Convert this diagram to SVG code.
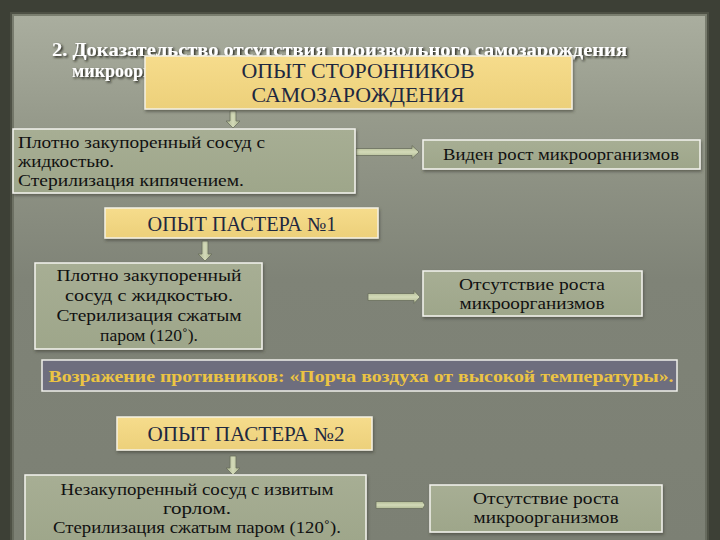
<svg xmlns="http://www.w3.org/2000/svg" width="720" height="540" viewBox="0 0 720 540">
<defs>
<linearGradient id="paper" x1="0" y1="0" x2="0" y2="1">
<stop offset="0" stop-color="#aaae9f"/>
<stop offset="0.2" stop-color="#969a8b"/>
<stop offset="0.5" stop-color="#7f8377"/>
<stop offset="1" stop-color="#7c8074"/>
</linearGradient>
<linearGradient id="yel" x1="0" y1="0" x2="0" y2="1">
<stop offset="0" stop-color="#f6dc8c"/>
<stop offset="1" stop-color="#ecd07a"/>
</linearGradient>
<linearGradient id="grn" x1="0" y1="0" x2="0" y2="1">
<stop offset="0" stop-color="#a7ae94"/>
<stop offset="1" stop-color="#9ea68a"/>
</linearGradient>
<linearGradient id="arr" x1="0" y1="0" x2="0" y2="1">
<stop offset="0" stop-color="#a9b28c"/>
<stop offset="0.5" stop-color="#d3dab8"/>
<stop offset="1" stop-color="#a9b28c"/>
</linearGradient>
<linearGradient id="arrv" x1="0" y1="0" x2="1" y2="0">
<stop offset="0" stop-color="#a9b28c"/>
<stop offset="0.5" stop-color="#d3dab8"/>
<stop offset="1" stop-color="#a9b28c"/>
</linearGradient>
<filter id="sh" x="-5%" y="-30%" width="110%" height="160%">
<feDropShadow dx="1.5" dy="1.5" stdDeviation="0.8" flood-color="#1a1a14" flood-opacity="0.95"/>
</filter>
<filter id="bs" x="-5%" y="-10%" width="110%" height="130%">
<feDropShadow dx="1" dy="2" stdDeviation="1.5" flood-color="#3a3c32" flood-opacity="0.6"/>
</filter>
</defs>
<style>
.yb{fill:url(#yel);stroke:#f4f1e4;stroke-width:1.5;filter:url(#bs)}
.gb{fill:url(#grn);stroke:#f4f4ee;stroke-width:1.5;filter:url(#bs)}
.yt{font-family:"Liberation Serif","DejaVu Serif",serif;font-size:20px;fill:#1e2840;text-anchor:middle}
.gt{font-family:"Liberation Serif","DejaVu Serif",serif;font-size:16.5px;fill:#111}
.c{text-anchor:middle}
.ah{fill:url(#arr);stroke:#6a6e5e;stroke-width:0.8}
.av{fill:url(#arrv);stroke:#6a6e5e;stroke-width:0.8}
</style>
<rect x="0" y="0" width="720" height="540" fill="#3d4036"/>
<rect x="12" y="14" width="695" height="530" fill="url(#paper)"/>
<rect x="12" y="14" width="695" height="530" fill="none" stroke="#5a5d50" stroke-width="4" opacity="0.6"/>
<g id="title" filter="url(#sh)" font-family="Liberation Serif,DejaVu Serif,serif" font-weight="bold" font-size="18" fill="#ffffff">
<text x="52" y="56" textLength="575" lengthAdjust="spacingAndGlyphs">2.  Доказательство  отсутствия  произвольного  самозарождения</text>
<text x="72" y="77">микроорганизмов</text>
</g>
<g id="connectors">
<path class="av" d="M230,111 h6 v10 h4 l-7,7 l-7,-7 h4 z"/>
<path class="ah" d="M356,148.5 h56 v-3 l7,6.5 l-7,6.5 v-3 h-56 z"/>
<path class="av" d="M202,241 h6 v13 h4 l-7,7 l-7,-7 h4 z"/>
<path class="ah" d="M368,293.5 h46 v-3 l6,6.5 l-6,6.5 v-3 h-46 z"/>
<path class="av" d="M230,456 h6 v12 h4 l-7,7 l-7,-7 h4 z"/>
<path class="ah" d="M376,501.5 h46 v-1 l3,4.5 l-3,4.5 v-1 h-46 z"/>
</g>
<g id="n1">
<rect class="yb" x="145" y="56" width="427" height="53"/>
<text class="yt" x="358" y="78" textLength="233" lengthAdjust="spacingAndGlyphs">ОПЫТ СТОРОННИКОВ</text>
<text class="yt" x="358" y="102" textLength="213" lengthAdjust="spacingAndGlyphs">САМОЗАРОЖДЕНИЯ</text>
</g>
<g id="n2">
<rect class="gb" x="13" y="129" width="342" height="64"/>
<text class="gt" x="18" y="148" textLength="247" lengthAdjust="spacingAndGlyphs">Плотно закупоренный сосуд с</text>
<text class="gt" x="18" y="167" textLength="96" lengthAdjust="spacingAndGlyphs">жидкостью.</text>
<text class="gt" x="18" y="186" textLength="226" lengthAdjust="spacingAndGlyphs">Стерилизация кипячением.</text>
</g>
<g id="n3">
<rect class="gb" x="423" y="140" width="277" height="29"/>
<text class="gt c" x="561" y="160" textLength="236" lengthAdjust="spacingAndGlyphs">Виден рост микроорганизмов</text>
</g>
<g id="n4">
<rect class="yb" x="105" y="208" width="273" height="30"/>
<text class="yt" x="242" y="231" textLength="189" lengthAdjust="spacingAndGlyphs">ОПЫТ ПАСТЕРА №1</text>
</g>
<g id="n5">
<rect class="gb" x="35" y="263" width="227" height="86"/>
<text class="gt c" x="149" y="281" textLength="185" lengthAdjust="spacingAndGlyphs">Плотно закупоренный</text>
<text class="gt c" x="149" y="301" textLength="168" lengthAdjust="spacingAndGlyphs">сосуд с  жидкостью.</text>
<text class="gt c" x="149" y="321" textLength="185" lengthAdjust="spacingAndGlyphs">Стерилизация  сжатым</text>
<text class="gt c" x="149" y="341" textLength="98" lengthAdjust="spacingAndGlyphs">паром (120˚).</text>
</g>
<g id="n6">
<rect class="gb" x="423" y="271" width="219" height="45"/>
<text class="gt c" x="532" y="290" textLength="146" lengthAdjust="spacingAndGlyphs">Отсутствие  роста</text>
<text class="gt c" x="532" y="309" textLength="145" lengthAdjust="spacingAndGlyphs">микроорганизмов</text>
</g>
<g id="n7">
<rect x="42" y="360" width="635" height="31" fill="#6e6e7e" stroke="#f0f0ea" stroke-width="1.5"/>
<text x="361" y="382" text-anchor="middle" font-family="Liberation Serif,DejaVu Serif,serif" font-size="17" font-weight="bold" fill="#ecc443" textLength="625" lengthAdjust="spacingAndGlyphs">Возражение противников: «Порча воздуха от высокой температуры».</text>
</g>
<g id="n8">
<rect class="yb" x="117" y="417" width="255" height="33"/>
<text class="yt" x="246" y="441" textLength="197" lengthAdjust="spacingAndGlyphs">ОПЫТ ПАСТЕРА №2</text>
</g>
<g id="n9">
<rect class="gb" x="25" y="475" width="341" height="70"/>
<text class="gt c" x="197" y="495" textLength="273" lengthAdjust="spacingAndGlyphs">Незакупоренный сосуд с  извитым</text>
<text class="gt c" x="197" y="514" textLength="68" lengthAdjust="spacingAndGlyphs">горлом.</text>
<text class="gt c" x="197" y="533" textLength="288" lengthAdjust="spacingAndGlyphs">Стерилизация  сжатым паром (120˚).</text>
</g>
<g id="n10">
<rect class="gb" x="430" y="485" width="232" height="47"/>
<text class="gt c" x="546" y="504" textLength="146" lengthAdjust="spacingAndGlyphs">Отсутствие  роста</text>
<text class="gt c" x="546" y="523" textLength="145" lengthAdjust="spacingAndGlyphs">микроорганизмов</text>
</g>
</svg>
